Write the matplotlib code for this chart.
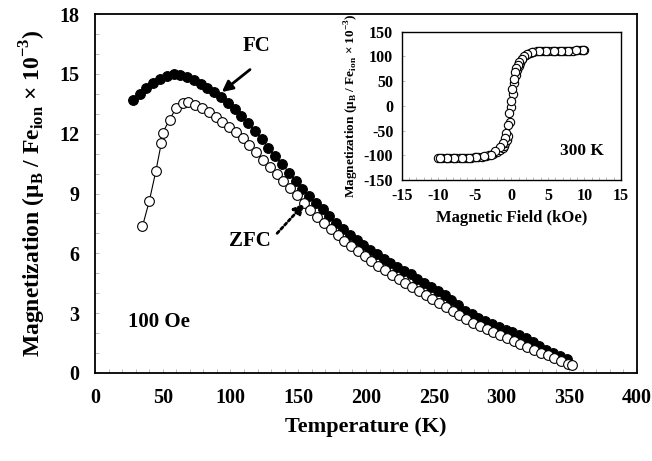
import matplotlib
matplotlib.use('Agg')
import matplotlib.pyplot as plt
from matplotlib.ticker import MultipleLocator

plt.rcParams['font.family'] = ['Liberation Serif', 'DejaVu Serif']
plt.rcParams['font.weight'] = 'bold'
plt.rcParams['mathtext.fontset'] = 'custom'
plt.rcParams['mathtext.rm'] = 'Liberation Serif:bold'
plt.rcParams['axes.unicode_minus'] = False

# FC (filled)
fc_t = [28, 33, 38, 43, 48, 53, 58, 63, 68, 73, 78, 83, 88, 93, 98, 103, 108, 113, 118, 123,
        128, 133, 138, 143, 148, 153, 158, 163, 168, 173, 178, 183, 188, 193, 198, 203, 208,
        213, 218, 223, 228, 233, 238, 243, 248, 253, 258, 263, 268, 273, 278, 283, 288, 293,
        298, 303, 308, 313, 318, 323, 328, 333, 338, 343, 348]
fc_m = [13.7, 14.0, 14.3, 14.55, 14.75, 14.9, 14.97, 14.95, 14.85, 14.7, 14.5, 14.3, 14.1,
        13.85, 13.55, 13.25, 12.9, 12.55, 12.15, 11.75, 11.3, 10.9, 10.5, 10.05, 9.65, 9.25,
        8.85, 8.5, 8.2, 7.85, 7.5, 7.2, 6.9, 6.65, 6.4, 6.15, 5.95, 5.7, 5.5, 5.3, 5.1, 4.95,
        4.7, 4.5, 4.3, 4.1, 3.9, 3.65, 3.4, 3.1, 2.95, 2.75, 2.6, 2.45, 2.3, 2.15, 2.05, 1.9,
        1.75, 1.55, 1.35, 1.15, 1.0, 0.85, 0.7]

# ZFC (open)
zfc_t = [35, 40, 45, 49, 50, 55, 60, 65, 69, 74, 79, 84, 89, 94, 99, 104, 109, 114, 119, 124,
         129, 134, 139, 144, 149, 154, 159, 164, 169, 174, 179, 184, 189, 194, 199, 204, 209,
         214, 219, 224, 229, 234, 239, 244, 249, 254, 259, 264, 269, 274, 279, 284, 289, 294,
         299, 304, 309, 314, 319, 324, 329, 334, 339, 344, 349, 352]
zfc_m = [7.35, 8.6, 10.15, 11.55, 12.05, 12.7, 13.3, 13.55, 13.6, 13.45, 13.3, 13.1, 12.85,
         12.6, 12.35, 12.1, 11.8, 11.45, 11.1, 10.7, 10.35, 10.0, 9.65, 9.3, 8.95, 8.5, 8.15,
         7.8, 7.5, 7.2, 6.9, 6.6, 6.35, 6.1, 5.85, 5.6, 5.35, 5.15, 4.9, 4.7, 4.5, 4.3, 4.1,
         3.9, 3.7, 3.5, 3.3, 3.1, 2.9, 2.7, 2.5, 2.35, 2.2, 2.05, 1.9, 1.75, 1.6, 1.45, 1.3,
         1.15, 1.0, 0.9, 0.75, 0.6, 0.45, 0.4]

# inset M-H at 300 K, field up then field down
h_up = [-10, -9.5, -9, -8.5, -8, -7.5, -7, -6.5, -6, -5.5, -5, -4.5, -4, -3.5, -3, -2.5, -2,
        -1.5, -1.2, -1, -0.8, -0.6, -0.4, -0.2, 0, 0.2, 0.4, 0.6, 0.8, 1, 1.2, 1.5, 2, 2.5,
        3, 3.5, 4, 4.5, 5, 5.5, 6, 6.5, 7, 7.5, 8, 8.5, 9, 9.5, 10]
m_up = [-106, -106, -106, -106, -106, -105, -105, -105, -105, -105, -104, -104, -103, -102,
        -100, -97, -94, -90, -85, -81, -76, -70, -60, -32, -2, 24, 46, 63, 73, 80, 86, 94, 103,
        107, 109, 110, 110, 111, 111, 111, 112, 112, 112, 112, 112, 112, 113, 113, 113]
h_down = [9.8, 8.8, 7.8, 6.8, 5.8, 4.8, 3.8, 2.8, 2.2, 1.8, 1.4, 1.1, 0.9, 0.7, 0.5, 0.3, 0.1,
          -0.1, -0.3, -0.5, -0.7, -0.9, -1.2, -1.6, -2.2, -2.8, -3.8, -4.8, -5.8, -6.8, -7.8,
          -8.8, -9.8]
m_down = [113, 113, 112, 112, 111, 111, 110, 108, 105, 100, 94, 88, 83, 77, 68, 55, 35,
          10, -15, -38, -55, -66, -76, -84, -92, -99, -102, -104, -105, -105, -106, -106, -106]

fig = plt.figure(figsize=(6.52, 4.61), dpi=100)
ax = fig.add_axes([0.1457, 0.1909, 0.8313, 0.7787])

ax.plot(fc_t, fc_m, '-o', color='black', lw=0.8, ms=7, mfc='black', mec='black', mew=0.8)
ax.plot(zfc_t, zfc_m, '-o', color='black', lw=0.8, ms=7, mfc='white', mec='black', mew=0.8)

ax.set_xlim(0, 400)
ax.set_ylim(0, 18)
ax.xaxis.set_major_locator(MultipleLocator(50))
ax.yaxis.set_major_locator(MultipleLocator(3))
ax.xaxis.set_minor_locator(MultipleLocator(10))
ax.yaxis.set_minor_locator(MultipleLocator(1))
ax.tick_params(which='both', direction='in', color='#b0b0b0', length=3, width=0.6)
ax.tick_params(labelsize=14.5, pad=11)
for s in ax.spines.values():
    s.set_linewidth(1.3)
ax.set_xlabel('Temperature (K)', fontsize=16, fontweight='bold', labelpad=6)
ax.set_ylabel('Magnetization (μ$_\\mathregular{B}$ / Fe$_\\mathregular{ion}$ × 10$^\\mathregular{-3}$)',
              fontsize=17, fontweight='bold', labelpad=8)

ax.text(119, 16.4, 'FC', fontsize=15, fontweight='bold', ha='center', va='center')
ax.annotate('', xy=(92, 14.0), xytext=(116, 15.3),
            arrowprops=dict(arrowstyle='-|>', color='black', lw=2, mutation_scale=16))
ax.text(114, 6.6, 'ZFC', fontsize=15, fontweight='bold', ha='center', va='center')
ax.annotate('', xy=(156, 8.6), xytext=(133, 6.9),
            arrowprops=dict(arrowstyle='-|>', color='black', lw=2, ls=(0, (1, 1)), mutation_scale=16))
ax.text(24, 2.56, '100 Oe', fontsize=15, fontweight='bold', ha='left', va='center')

# inset
ins = fig.add_axes([0.616, 0.6095, 0.3365, 0.3217])
ins.plot(h_up, m_up, 'o', ms=6, mfc='white', mec='black', mew=0.8)
ins.plot(h_down, m_down, 'o', ms=6, mfc='white', mec='black', mew=0.8)
ins.set_xlim(-15, 15)
ins.set_ylim(-150, 150)
ins.xaxis.set_major_locator(MultipleLocator(5))
ins.yaxis.set_major_locator(MultipleLocator(50))
ins.xaxis.set_minor_locator(MultipleLocator(1))
ins.tick_params(which='both', direction='in', color='#b0b0b0', length=2.5, width=0.6)
ins.tick_params(labelsize=11.5, pad=6)
for s in ins.spines.values():
    s.set_linewidth(1.0)
ins.set_xlabel('Magnetic Field (kOe)', fontsize=12, fontweight='bold', labelpad=4)
ins.set_ylabel('Magnetization (μ$_\\mathregular{B}$ / Fe$_\\mathregular{ion}$ × 10$^\\mathregular{-3}$)',
               fontsize=9.5, fontweight='bold', labelpad=2)
ins.text(9.7, -92, '300 K', fontsize=12.5, fontweight='bold', ha='center', va='center')

fig.savefig('out.png', dpi=100)
